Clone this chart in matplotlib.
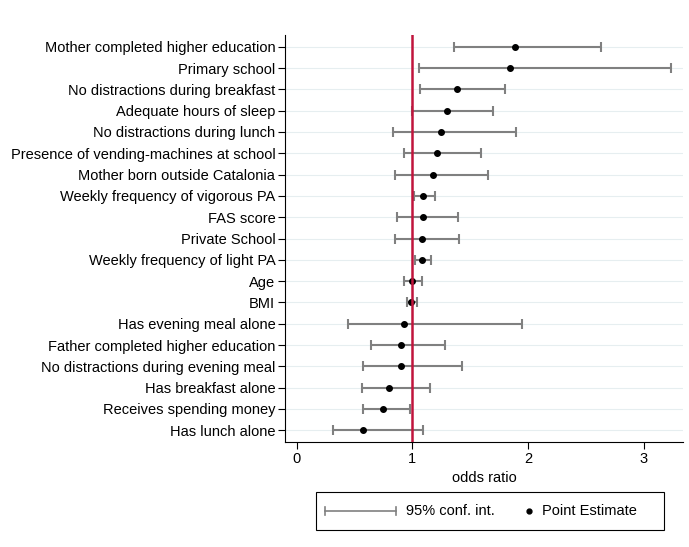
import numpy as np
import matplotlib.pyplot as plt
from matplotlib.lines import Line2D
from matplotlib.patches import Rectangle

plt.rcParams['font.family'] = ['Liberation Sans', 'DejaVu Sans']

labels = [
    "Mother completed higher education",
    "Primary school",
    "No distractions during breakfast",
    "Adequate hours of sleep",
    "No distractions during lunch",
    "Presence of vending-machines at school",
    "Mother born outside Catalonia",
    "Weekly frequency of vigorous PA",
    "FAS score",
    "Private School",
    "Weekly frequency of light PA",
    "Age",
    "BMI",
    "Has evening meal alone",
    "Father completed higher education",
    "No distractions during evening meal",
    "Has breakfast alone",
    "Receives spending money",
    "Has lunch alone",
]
odds = [1.887, 1.844, 1.383, 1.297, 1.25, 1.21, 1.176, 1.095, 1.095, 1.087,
        1.081, 0.997, 0.989, 0.925, 0.905, 0.905, 0.799, 0.747, 0.577]
ci_low = [1.357, 1.055, 1.066, 0.997, 0.830, 0.925, 0.848, 1.015, 0.868, 0.851,
          1.023, 0.925, 0.954, 0.445, 0.643, 0.577, 0.563, 0.574, 0.312]
ci_high = [2.635, 3.24, 1.803, 1.694, 1.90, 1.593, 1.654, 1.193, 1.392, 1.403,
           1.159, 1.084, 1.038, 1.947, 1.285, 1.429, 1.156, 0.983, 1.090]

W, H = 689, 547
odds = np.array(odds)
err = np.vstack([odds - np.array(ci_low), np.array(ci_high) - odds])
y = np.arange(len(labels))

fig = plt.figure(figsize=(W / 100, H / 100), dpi=100)
ax = fig.add_axes([285 / W, 1 - 442 / H, (683 - 285) / W, (442 - 35) / H])

for yy in y:
    ax.axhline(yy, color='#e6eef0', lw=0.8, zorder=0)

ax.errorbar(odds, y, xerr=err, fmt='none', ecolor='#808080', elinewidth=1.5,
            capsize=3.5, capthick=1.5, zorder=2)
ax.plot(odds, y, 'o', color='black', markersize=4, zorder=3)
ax.axvline(1, color='#c0143c', lw=1.8, zorder=4)

ax.set_ylim(18.55, -0.55)
ax.set_xlim(-0.1, 3.34)
ax.set_yticks(y)
ax.set_yticklabels(labels, fontsize=10.5)
ax.set_xticks([0, 1, 2, 3])
ax.tick_params(axis='x', labelsize=10.5, length=5, direction='out', pad=2.5)
ax.tick_params(axis='y', length=5, direction='out', pad=2)
ax.set_xlabel('odds ratio', fontsize=10.5, labelpad=3)
ax.spines['top'].set_visible(False)
ax.spines['right'].set_visible(False)


def fx(px):
    return px / W


def fy(py):
    return 1 - py / H


# legend box drawn by hand so the two keys get different widths
fig.patches.append(Rectangle((fx(316), fy(530)), fx(664) - fx(316), fy(492) - fy(530),
                             transform=fig.transFigure, fill=False,
                             edgecolor='black', lw=0.8))
ly = fy(511)
fig.lines.append(Line2D([fx(325), fx(396)], [ly, ly], transform=fig.transFigure,
                        color='#808080', lw=1.2))
for cx in (325, 396):
    fig.lines.append(Line2D([fx(cx), fx(cx)], [fy(507), fy(515)],
                            transform=fig.transFigure, color='#808080', lw=1.2))
fig.lines.append(Line2D([fx(529)], [ly], transform=fig.transFigure, marker='o',
                        color='black', markersize=3.5, lw=0))
fig.text(fx(406), ly, '95% conf. int.', fontsize=10.5, va='center', ha='left')
fig.text(fx(542), ly, 'Point Estimate', fontsize=10.5, va='center', ha='left')

fig.savefig('out.png', dpi=100)
